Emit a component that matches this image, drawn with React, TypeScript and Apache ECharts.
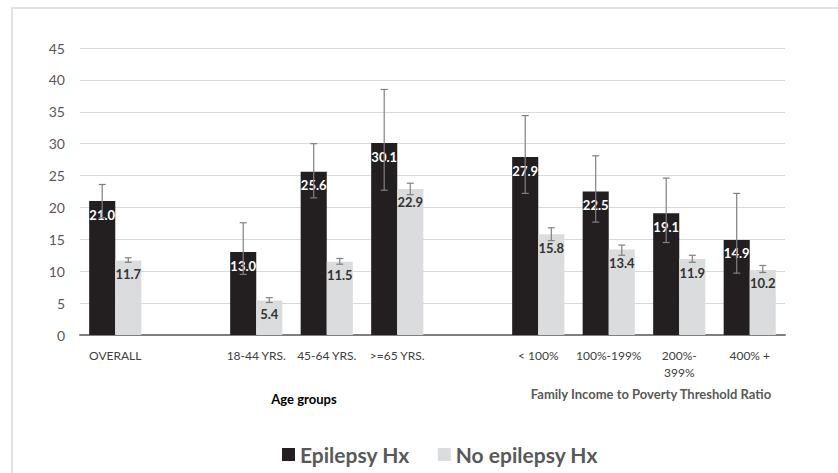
import React, { useEffect, useRef } from "react";
import * as echarts from "echarts";

const categories = ["OVERALL", "", "18-44 YRS.", "45-64 YRS.", ">=65 YRS.", "", "< 100%", "100%-199%", "200%-\n399%", "400% +"];
const epilepsy = [21.0, null, 13.0, 25.6, 30.1, null, 27.9, 22.5, 19.1, 14.9];
const epilepsyLow = [18.4, null, 9.5, 21.5, 22.7, null, 22.2, 17.7, 14.5, 9.7];
const epilepsyHigh = [23.6, null, 17.6, 30.0, 38.5, null, 34.4, 28.1, 24.6, 22.2];
const noEpilepsy = [11.7, null, 5.4, 11.5, 22.9, null, 15.8, 13.4, 11.9, 10.2];
const noEpilepsyLow = [11.4, null, 5.1, 11.1, 22.0, null, 14.8, 12.5, 11.4, 9.8];
const noEpilepsyHigh = [12.1, null, 5.85, 12.0, 23.8, null, 16.8, 14.1, 12.5, 10.9];
const yTicks = [0, 5, 10, 15, 20, 25, 30, 35, 40, 45];

const GAP = 0.26;
const FONT = "Lato, 'Open Sans', sans-serif";

function errData(lo: (number | null)[], hi: (number | null)[]) {
  const out: number[][] = [];
  lo.forEach((l, i) => {
    const h = hi[i];
    if (l != null && h != null) out.push([i, l, h]);
  });
  return out;
}

function makeRender(side: number) {
  return (params: any, api: any) => {
    const x = api.value(0);
    const lo = api.coord([x, api.value(1)]);
    const hi = api.coord([x, api.value(2)]);
    const band = api.size([1, 0])[0];
    const bw = (band * (1 - GAP)) / 2;
    const cx = lo[0] + (side * bw) / 2;
    const cap = 3.5;
    const style = { stroke: "#808080", lineWidth: 1.2 };
    return {
      type: "group",
      children: [
        { type: "line", shape: { x1: cx, y1: lo[1], x2: cx, y2: hi[1] }, style },
        { type: "line", shape: { x1: cx - cap, y1: lo[1], x2: cx + cap, y2: lo[1] }, style },
        { type: "line", shape: { x1: cx - cap, y1: hi[1], x2: cx + cap, y2: hi[1] }, style },
      ],
    };
  };
}

export default function App() {
  const ref = useRef<HTMLDivElement>(null);
  useEffect(() => {
    if (!ref.current) return;
    const chart = echarts.init(ref.current, null, { renderer: "svg" });
    chart.setOption({
      animation: false,
      backgroundColor: "#ffffff",
      textStyle: { fontFamily: FONT },
      grid: { left: 80, right: 53, top: 48, bottom: 138, containLabel: false },
      xAxis: {
        type: "category",
        data: categories,
        axisLine: { lineStyle: { color: "#7f7f7f", width: 2 } },
        axisTick: { show: false },
        axisLabel: { color: "#404040", fontSize: 12, margin: 12, interval: 0, lineHeight: 17, fontFamily: FONT },
      },
      yAxis: {
        type: "value",
        min: yTicks[0],
        max: yTicks[yTicks.length - 1],
        interval: 5,
        axisLine: { show: false },
        axisTick: { show: false },
        splitLine: { lineStyle: { color: "#d9d9d9", width: 1 } },
        axisLabel: { color: "#595959", fontSize: 14, margin: 15, fontFamily: FONT },
      },
      legend: {
        data: ["Epilepsy Hx", "No epilepsy Hx"],
        left: 277,
        top: 439,
        icon: "rect",
        itemWidth: 13,
        itemHeight: 13,
        itemGap: 28,
        textStyle: { color: "#595959", fontSize: 21, fontWeight: "bold", fontFamily: FONT },
      },
      graphic: [
        {
          type: "rect",
          shape: { x: 12, y: 8, width: 900, height: 600 },
          style: { fill: "none", stroke: "#d9d9d9", lineWidth: 1.5 },
          silent: true,
        },
        {
          type: "text",
          x: 304,
          y: 399,
          style: { text: "Age groups", fill: "#000000", font: `bold 13px ${FONT}`, align: "center", verticalAlign: "middle" },
        },
        {
          type: "text",
          x: 651,
          y: 394,
          style: { text: "Family Income to Poverty Threshold Ratio", fill: "#595959", font: `bold 13px ${FONT}`, align: "center", verticalAlign: "middle" },
        },
      ],
      series: [
        {
          name: "Epilepsy Hx",
          type: "bar",
          data: epilepsy,
          barGap: "0%",
          barCategoryGap: `${GAP * 100}%`,
          itemStyle: { color: "#231f20" },
          label: {
            show: true,
            position: "insideTop",
            distance: 7,
            color: "#ffffff",
            fontSize: 13,
            fontWeight: "bold",
            fontFamily: FONT,
            formatter: (p: any) => (p.value == null ? "" : Number(p.value).toFixed(1)),
          },
        },
        {
          name: "No epilepsy Hx",
          type: "bar",
          data: noEpilepsy,
          barGap: "0%",
          barCategoryGap: `${GAP * 100}%`,
          itemStyle: { color: "#dbdcdd" },
          label: {
            show: true,
            position: "insideTop",
            distance: 7,
            color: "#333333",
            fontSize: 13,
            fontWeight: "bold",
            fontFamily: FONT,
            formatter: (p: any) => (p.value == null ? "" : Number(p.value).toFixed(1)),
          },
        },
        {
          name: "err1",
          type: "custom",
          renderItem: makeRender(-1),
          data: errData(epilepsyLow, epilepsyHigh),
          encode: { x: 0, y: [1, 2] },
          z: 3,
          silent: true,
        },
        {
          name: "err2",
          type: "custom",
          renderItem: makeRender(1),
          data: errData(noEpilepsyLow, noEpilepsyHigh),
          encode: { x: 0, y: [1, 2] },
          z: 3,
          silent: true,
        },
      ],
    });
    return () => chart.dispose();
  }, []);
  return <div ref={ref} style={{ position: "fixed", left: 0, top: 0, width: 838, height: 473 }} />;
}
